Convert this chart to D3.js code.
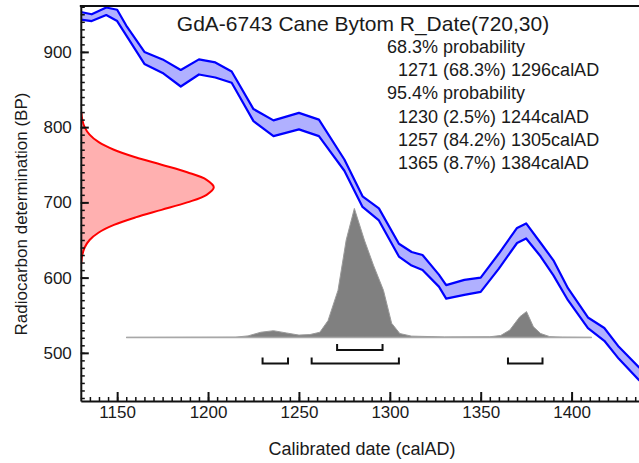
<!DOCTYPE html>
<html>
<head>
    <meta charset="UTF-8">
    <title>GdA-6743 Cane Bytom</title>
    <!-- link to D3.js -->
    <script src="https://d3js.org/d3.v7.min.js"></script>
    <style>
        body { margin: 0; background: white; }
        svg { display: block; font-family: "Liberation Sans", Arial, sans-serif; }
    </style>
</head>

<body>
    <div id="chart"></div>

<script>
    // sample name and measurement
    var sampleName = "GdA-6743 Cane Bytom";
    var rDate = [720, 30];

    // calibration curve (IntCal band): year, upper and lower edge in BP
    var calYears = [1130, 1136, 1144, 1150, 1155, 1165, 1175, 1185, 1195, 1204, 1213, 1225, 1236, 1250,
        1261, 1275, 1285, 1294, 1305, 1312, 1318, 1327, 1331, 1341, 1350, 1360, 1370, 1375, 1383, 1390,
        1398, 1409, 1418, 1426, 1437, 1442];
    var calUpper = [953, 950, 959, 956, 935, 900, 890, 876, 890, 886, 874, 824, 809, 819,
        810, 757, 708, 692, 645, 634, 630, 604, 590, 597, 600, 632, 666, 672, 646, 623,
        586, 547, 533, 508, 481, 470];
    var calLower = [943, 941, 949, 941, 922, 884, 872, 854, 870, 866, 859, 808, 788, 797,
        788, 742, 694, 676, 628, 616, 610, 588, 572, 577, 581, 612, 646, 652, 628, 603,
        570, 533, 516, 492, 464, 453];

    // radiocarbon measurement density on the BP axis (relative)
    var rBP = [620, 630, 640, 650, 660, 670, 680, 690, 700, 710, 720, 730, 740, 750, 760, 770, 780, 790, 800, 810, 820];
    var rDensity = [0.004, 0.011, 0.029, 0.066, 0.135, 0.249, 0.411, 0.607, 0.80, 0.946, 1.0,
        0.946, 0.80, 0.607, 0.411, 0.249, 0.135, 0.066, 0.029, 0.011, 0.004];

    // calibrated date density (relative)
    var postYears = [1155, 1215, 1222, 1229, 1236, 1243, 1250, 1256, 1261.5, 1266, 1271.5, 1276, 1280.5,
        1286, 1291, 1296.5, 1301, 1305.5, 1312, 1330, 1355, 1361, 1366, 1371.5, 1375.2, 1379, 1383,
        1388, 1395, 1411];
    var postDensity = [0, 0.002, 0.012, 0.04, 0.052, 0.035, 0.018, 0.022, 0.04, 0.13, 0.365, 0.755, 1.0,
        0.755, 0.56, 0.365, 0.11, 0.03, 0.01, 0.004, 0.005, 0.015, 0.057, 0.16, 0.2, 0.082, 0.03,
        0.006, 0.002, 0];

    // highest probability ranges
    var ranges68 = [[1271, 1296]];
    var pct68 = [68.3];
    var ranges95 = [[1230, 1244], [1257, 1305], [1365, 1384]];
    var pct95 = [2.5, 84.2, 8.7];

    // axis ticks
    var xMajor = [1150, 1200, 1250, 1300, 1350, 1400];
    var yMajor = [500, 600, 700, 800, 900];

    var width = 639, height = 463;
    var plotLeft = 80.8, plotTop = 6, plotBottom = 401;

    var svg = d3.select("#chart").append("svg")
        .attr("width", width)
        .attr("height", height);

    // scales
    var x = d3.scaleLinear().domain([1130, 1440]).range([plotLeft, 644.3]);
    var y = d3.scaleLinear().domain([436, 961]).range([plotBottom, plotTop]);
    var redW = d3.scaleLinear().domain([0, 1]).range([0, 133]);
    var postH = d3.scaleLinear().domain([0, 1]).range([0, 129]);
    var base = y(520.5);

    // clip to plot area
    svg.append("clipPath").attr("id", "plotClip")
        .append("rect")
        .attr("x", plotLeft).attr("y", plotTop)
        .attr("width", width - plotLeft).attr("height", plotBottom - plotTop);

    var plot = svg.append("g").attr("clip-path", "url(#plotClip)");

    // red measurement curve
    var rData = rBP.map(function(d, i) { return { bp: d, p: rDensity[i] }; });
    plot.append("path")
        .datum(rData)
        .attr("fill", "#ffb0b0")
        .attr("d", d3.area()
            .curve(d3.curveCatmullRom)
            .y(function(d) { return y(d.bp); })
            .x0(plotLeft)
            .x1(function(d) { return plotLeft + redW(d.p); }));
    plot.append("path")
        .datum(rData)
        .attr("fill", "none")
        .attr("stroke", "#ff0000")
        .attr("stroke-width", 2)
        .attr("d", d3.line()
            .curve(d3.curveCatmullRom)
            .y(function(d) { return y(d.bp); })
            .x(function(d) { return plotLeft + redW(d.p); }));

    // calibration band
    var cal = calYears.map(function(d, i) { return { yr: d, hi: calUpper[i], lo: calLower[i] }; });
    plot.append("path")
        .datum(cal)
        .attr("fill", "#b0b0ff")
        .attr("d", d3.area()
            .x(function(d) { return x(d.yr); })
            .y0(function(d) { return y(d.lo); })
            .y1(function(d) { return y(d.hi); }));
    ["hi", "lo"].forEach(function(k) {
        plot.append("path")
            .datum(cal)
            .attr("fill", "none")
            .attr("stroke", "#0000ff")
            .attr("stroke-width", 2.2)
            .attr("stroke-linejoin", "round")
            .attr("d", d3.line()
                .x(function(d) { return x(d.yr); })
                .y(function(d) { return y(d[k]); }));
    });

    // calibrated distribution
    var post = postYears.map(function(d, i) { return { yr: d, p: postDensity[i] }; });
    plot.append("path")
        .datum(post)
        .attr("fill", "#808080")
        .attr("stroke", "#9a9a9a")
        .attr("stroke-width", 1)
        .attr("d", d3.area()
            .x(function(d) { return x(d.yr); })
            .y0(base)
            .y1(function(d) { return base - postH(d.p); }));
    plot.append("line")
        .attr("x1", x(postYears[0])).attr("x2", x(postYears[postYears.length - 1]))
        .attr("y1", base).attr("y2", base)
        .attr("stroke", "#a8a8a8")
        .attr("stroke-width", 1.5);

    // range brackets
    function brackets(ranges, off) {
        plot.selectAll(null)
            .data(ranges)
            .enter()
            .append("path")
            .attr("fill", "none")
            .attr("stroke", "#111")
            .attr("stroke-width", 2)
            .attr("d", function(d) {
                var yb = base + off;
                return "M" + x(d[0]) + "," + (yb - 6) + "V" + yb + "H" + x(d[1]) + "V" + (yb - 6);
            });
    }
    brackets(ranges68, 12.5);
    brackets(ranges95, 26);

    // minor ticks
    svg.append("g")
        .attr("transform", "translate(0," + plotBottom + ")")
        .call(d3.axisBottom(x).tickValues(d3.range(1135, 1440, 5)).tickSize(-4).tickFormat(""))
        .call(function(g) { g.select(".domain").remove(); })
        .selectAll("line").attr("stroke", "#111").attr("stroke-width", 1.5);
    svg.append("g")
        .attr("transform", "translate(" + plotLeft + ",0)")
        .call(d3.axisLeft(y).tickValues(d3.range(440, 961, 10)).tickSize(-4).tickFormat(""))
        .call(function(g) { g.select(".domain").remove(); })
        .selectAll("line").attr("stroke", "#111").attr("stroke-width", 1.5);

    // major axes
    var xAx = svg.append("g")
        .attr("transform", "translate(0," + plotBottom + ")")
        .call(d3.axisBottom(x).tickValues(xMajor).tickFormat(d3.format("d"))
            .tickSizeInner(-9).tickSizeOuter(0).tickPadding(5));
    var yAx = svg.append("g")
        .attr("transform", "translate(" + plotLeft + ",0)")
        .call(d3.axisLeft(y).tickValues(yMajor).tickFormat(d3.format("d"))
            .tickSizeInner(-8).tickSizeOuter(0).tickPadding(9));
    [xAx, yAx].forEach(function(g) {
        g.select(".domain").attr("stroke", "#111").attr("stroke-width", 2);
        g.selectAll(".tick line").attr("stroke", "#111").attr("stroke-width", 2);
        g.selectAll("text")
            .attr("font-family", "Liberation Sans, Arial, sans-serif")
            .attr("font-size", "17px")
            .attr("fill", "#1a1a1a");
    });

    // top border
    svg.append("line")
        .attr("x1", plotLeft - 1).attr("x2", width)
        .attr("y1", plotTop).attr("y2", plotTop)
        .attr("stroke", "#111").attr("stroke-width", 2);

    // axis titles
    svg.append("text")
        .attr("x", 362).attr("y", 455)
        .attr("text-anchor", "middle")
        .attr("font-size", "18px")
        .attr("fill", "#1a1a1a")
        .text("Calibrated date (calAD)");
    svg.append("text")
        .attr("transform", "translate(27,214) rotate(-90)")
        .attr("text-anchor", "middle")
        .attr("font-size", "17px")
        .attr("fill", "#1a1a1a")
        .text("Radiocarbon determination (BP)");

    // title and ranges text
    svg.append("text")
        .attr("x", 363).attr("y", 30.5)
        .attr("text-anchor", "middle")
        .attr("font-size", "21px")
        .attr("fill", "#1a1a1a")
        .text(sampleName + " R_Date(" + rDate[0] + "," + rDate[1] + ")");

    var lines = [{ t: "68.3% probability", ind: 0 }];
    ranges68.forEach(function(r, i) {
        lines.push({ t: r[0] + " (" + pct68[i] + "%) " + r[1] + "calAD", ind: 1 });
    });
    lines.push({ t: "95.4% probability", ind: 0 });
    ranges95.forEach(function(r, i) {
        lines.push({ t: r[0] + " (" + pct95[i] + "%) " + r[1] + "calAD", ind: 1 });
    });
    svg.selectAll(".info")
        .data(lines)
        .enter()
        .append("text")
        .attr("class", "info")
        .attr("x", function(d) { return d.ind ? 398 : 387; })
        .attr("y", function(d, i) { return 52.7 + i * 23.3; })
        .attr("font-size", "18px")
        .attr("fill", "#1a1a1a")
        .text(function(d) { return d.t; });
</script>
</body>
</html>
